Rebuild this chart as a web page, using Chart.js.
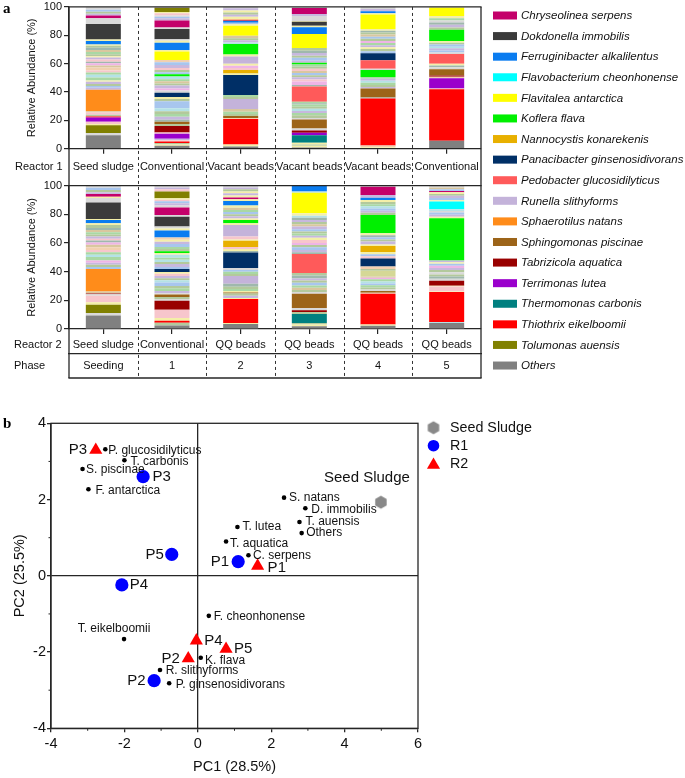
<!DOCTYPE html>
<html><head><meta charset="utf-8">
<script src="https://cdn.jsdelivr.net/npm/chart.js@4.4.1/dist/chart.umd.min.js"></script>
<style>
html,body{margin:0;padding:0;background:#fff;}
#wrap{position:relative;width:685px;height:778px;overflow:hidden;background:#fff;}
#wrap canvas{position:absolute;left:0;top:0;width:685px;height:778px;}
</style></head><body>
<div id="wrap">
<canvas id="cR1" width="685" height="778"></canvas>
<canvas id="cR2" width="685" height="778"></canvas>
<canvas id="cPCA" width="685" height="778"></canvas>
</div>
<script>
// ---------------- DATA (panel a) ----------------
const reactor1Labels = ['Seed sludge','Conventional','Vacant beads','Vacant beads','Vacant beads','Conventional'];
const reactor2Labels = ['Seed sludge','Conventional','QQ beads','QQ beads','QQ beads','QQ beads'];
const phaseLabels = ['Seeding','1','2','3','4','5'];
const rowTitles = ['Reactor 1','Reactor 2','Phase'];
const yTicksA = [0,20,40,60,80,100];

const taxonNames = {
  Chr:'Chryseolinea serpens', Dok:'Dokdonella immobilis', Fer:'Ferruginibacter alkalilentus',
  Fla:'Flavobacterium cheonhonense', Flt:'Flavitalea antarctica', Kof:'Koflera flava',
  Nan:'Nannocystis konarekenis', Pan:'Panacibacter ginsenosidivorans', Ped:'Pedobacter glucosidilyticus',
  Run:'Runella slithyforms', Sph:'Sphaerotilus natans', Spg:'Sphingomonas piscinae',
  Tab:'Tabrizicola aquatica', Ter:'Terrimonas lutea', The:'Thermomonas carbonis',
  Thi:'Thiothrix eikelboomii', Tol:'Tolumonas auensis', Oth:'Others'
};
const legendOrder = ['Chr','Dok','Fer','Fla','Flt','Kof','Nan','Pan','Ped','Run','Sph','Spg','Tab','Ter','The','Thi','Tol','Oth'];

// Each bar: segments bottom -> top, [taxon, relative abundance %]; m1..m13 = unnamed minor taxa
const r1Seed = [['Oth',9.5],['m1',1.5],['Tol',5.5],['m6',1],['m2',1.5],['Ter',3],['Thi',0.8],['m8',1.2],['m2',1.5],['m7',1],['Sph',15],['m5',1.5],['m4',1.2],['m8',1.5],['m5',1.5],['m6',1],['m3',2],['m10',2],['m3',1.5],['m2',1.5],['m11',2],['m7',1.5],['m9',1.5],['m12',1.2],['m2',1.5],['m5',1.5],['m6',0.8],['m8',1.5],['m3',1.5],['m7',1.5],['m12',1.5],['m8',1.5],['m6',0.8],['Fer',2.5],['m6',1],['Dok',11],['m1',4],['Chr',2],['m5',1.2],['m8',1.5],['m4',1.3],['m1',2]];
const r1Conv = [['Oth',2],['m6',1],['m8',1],['Thi',1],['m2',1],['m5',1],['Ter',3.5],['m2',1],['Tab',4.5],['m8',1.5],['Spg',1.5],['m12',1.5],['m5',2],['m3',2],['m8',2],['m10',2],['m4',5],['m8',1.5],['m6',1.5],['Pan',3],['m1',1.5],['m9',1.5],['m5',2],['m8',1.5],['m7',1.5],['m3',1.5],['m10',2],['Kof',1.5],['m4',1.5],['m8',1.5],['m2',1.5],['m5',2],['m4',2],['m11',1.5],['Flt',6],['m6',1.2],['Fer',5],['m6',1.5],['m1',1],['Dok',7.3],['m1',1],['Chr',5],['m5',1.5],['m4',1],['m1',1],['m2',1.5],['m6',1],['Tol',3],['m5',0.5]];
const r1P2 = [['Oth',1.5],['m6',1.5],['Thi',18],['m11',0.7],['Spg',1.3],['m8',1.5],['m3',1.5],['m7',2],['Run',7],['m8',1.5],['m3',1.3],['Pan',14.2],['m6',1],['Nan',2.5],['m2',1.5],['m9',1.5],['m6',1.5],['Run',5],['m6',1.4],['Kof',7.4],['m10',1.2],['m5',1.5],['m8',1.5],['m7',1.6],['Flt',7.2],['m6',1],['m4',1.1],['Fer',1.4],['Thi',0.7],['m6',2],['m5',1.5],['m8',1.5],['m6',1.5],['m5',1.5],['m1',1]];
const r1P3 = [['Oth',0.8],['m6',1.2],['m8',1],['m6',1.2],['The',5.3],['Ter',1.7],['Tab',1.6],['m1',1.4],['Spg',6.4],['m1',1],['m8',2],['m3',1.5],['m5',1.5],['m10',1.5],['m8',1.5],['m3',1.5],['m12',1],['m3',1.1],['Ped',10.7],['m12',1],['m9',2.5],['m2',1.5],['m5',1.5],['m8',1.5],['m4',1.5],['m7',1.5],['m2',1.5],['m8',1.5],['m3',1.5],['Kof',1.2],['m5',1.5],['m4',2],['m8',1.5],['m5',2],['m12',1.5],['m8',1.9],['Flt',10],['Fer',4.6],['m6',1.2],['Dok',2.8],['m6',0.5],['m1',3.6],['m5',1.4],['Chr',4.2],['m1',0.7]];
const r1P4 = [['m6',1],['m11',1.3],['Thi',33.2],['m12',0.7],['Spg',6.3],['m5',1],['m8',1.5],['m3',1.5],['m10',1.5],['m5',1.3],['m3',1.3],['Kof',4.9],['m1',0.9],['Ped',6],['Pan',4.9],['m4',1.5],['m8',1.5],['m6',1.2],['m5',1.5],['m3',1.5],['m9',1.5],['m8',1.5],['m4',1.5],['m7',1.5],['m8',1.5],['m12',1.2],['m6',1.3],['Flt',10.2],['m6',0.9],['Fer',1.4],['m5',1.5],['m1',1.5]];
const r1P5 = [['Oth',5.6],['Thi',36.4],['m2',0.5],['Ter',7.2],['m11',1],['Tab',1],['Spg',4.3],['m1',1.5],['m12',1.2],['m6',1.2],['Ped',6.9],['m1',1],['m4',1.5],['m5',1.5],['m10',1.2],['m4',1.5],['m8',1.3],['m6',1.2],['Kof',8],['m8',1.5],['m5',2],['m12',1.5],['m1',1.5],['m3',1.5],['m6',1.7],['Flt',5.8],['m6',0.5]];

const r2Seed = [['Oth',9.5],['m1',1.6],['Tol',5.8],['m6',1.7],['m2',4.6],['m1',1],['Tab',0.6],['m7',1.4],['Sph',15.6],['m4',1.5],['m8',1.5],['m5',1.5],['m9',1.5],['m3',2.5],['m10',1.5],['m3',1.8],['m2',1.5],['m11',2],['m7',1.7],['m9',1.5],['m12',1.5],['m2',1.2],['m5',1.5],['m8',1.5],['m3',1.5],['m7',1.5],['m12',1.5],['m8',2],['m6',1.3],['Fer',2.3],['m6',0.7],['Dok',11.4],['m1',3.2],['m6',0.9],['Chr',1.9],['m5',1.3],['m8',1.5],['m4',1.5],['m1',1.5]];
const r2Conv = [['Oth',2.5],['m8',1.9],['Thi',1.4],['m6',1.9],['m2',5.8],['Tab',6.2],['m1',1.3],['m8',1.3],['Spg',1.7],['m1',1],['m5',1.5],['m3',2],['m8',1.5],['m4',2.5],['m10',1.5],['m8',1.5],['m5',1.5],['m2',1.5],['m6',1.2],['Pan',2.1],['m4',1.5],['m5',2],['m8',1.5],['m10',1.5],['m3',1.5],['m10',2],['m6',1.3],['Kof',1.2],['m8',1.5],['m3',1.5],['m4',2],['m5',1.5],['m6',1.5],['m11',1.5],['Fer',4.9],['m6',1.5],['m1',1.3],['Dok',6.9],['m1',1.2],['Chr',5.1],['m1',1.5],['m5',1.5],['m4',1.5],['m2',1],['m6',1],['Tol',4.8],['m2',1.5],['m5',1.2],['m1',1.3]];
const r2P2 = [['Oth',3.5],['m6',0.7],['Thi',16.7],['m6',0.8],['m5',1.5],['m8',1.5],['Spg',0.8],['m6',1],['m3',1.5],['m8',1.5],['m12',2],['Run',5.4],['m8',1.5],['m3',1.5],['m4',1.3],['m1',1.3],['Pan',10.9],['m12',1],['m6',1.4],['m2',1.5],['Nan',4.2],['m6',1],['m2',2],['Run',8.1],['m6',1.2],['Kof',2.3],['m6',1],['m5',1.5],['m8',1.5],['m4',1.5],['m3',1.5],['m7',1.5],['m6',1.5],['Fer',3.2],['m6',1.2],['Chr',1.2],['m6',1.5],['m5',1.5],['m6',1.3],['m8',1.5],['m5',1.3],['m1',1.2]];
const r2P3 = [['Oth',1.9],['m6',1.3],['m8',1],['The',6.2],['m8',1.5],['Tab',1.2],['m1',1.5],['Spg',10],['m1',1.2],['m8',1.5],['m7',1.5],['m3',1.5],['m4',2],['m8',1.5],['m5',1.5],['m12',2],['m8',1.7],['Ped',13.4],['m12',1.2],['m5',1.5],['m4',2],['m8',1.5],['m9',1.5],['m2',2],['m6',1.5],['m5',1.5],['m3',1.5],['m8',1.5],['m4',1.5],['m5',2],['m7',1.5],['m8',1.5],['m5',1.5],['m12',1.5],['m10',1.5],['m6',1.6],['Flt',14.4],['m10',0.9],['Fer',4]];
const r2P4 = [['Oth',2.3],['m6',0.9],['Thi',21.4],['m11',0.7],['Spg',1.2],['m1',1],['m8',1.5],['m3',1.5],['m4',1.2],['m10',1.5],['m3',1.5],['m9',1],['m7',1],['m13',3.9],['m8',1.2],['m11',1.8],['Pan',5.6],['m2',1.5],['m4',1.5],['m6',1.6],['Nan',4.2],['m6',1],['m5',2],['m8',1.5],['m4',1.5],['m12',1.5],['m6',1.3],['Kof',12.8],['m8',1.5],['m5',1.5],['m4',1.5],['m10',1.5],['m3',1.5],['m8',1.5],['m6',1.5],['Fer',1.5],['m5',1.9],['Chr',5.8],['m1',0.7]];
const r2P5 = [['Oth',4.2],['m10',0.7],['Thi',20.9],['m6',0.4],['m2',3.5],['m6',0.5],['Tab',3.4],['m1',1.5],['m12',1.5],['m8',1.5],['m1',1.5],['m8',1.5],['m5',1.5],['m9',1.5],['m4',1.5],['m6',1],['m5',1.2],['Kof',29.5],['m6',1],['m5',1.5],['m4',1.5],['m1',1],['m10',1.2],['Fla',5.4],['m6',1],['m4',1.5],['m5',1.5],['m8',1.3],['m6',1.2],['Chr',0.9],['m4',1.2],['m7',1.3],['m1',1.2]];

const reactor1Bars = [r1Seed, r1Conv, r1P2, r1P3, r1P4, r1P5];
const reactor2Bars = [r2Seed, r2Conv, r2P2, r2P3, r2P4, r2P5];

// ---------------- DATA (panel b) ----------------
const speciesNames = ['P. glucosidilyticus','T. carbonis','S. piscinae','F. antarctica','S. natans','D. immobilis','T. auensis','Others','T. lutea','T. aquatica','C. serpens','F. cheonhonense','T. eikelboomii','K. flava','R. slithyforms','P. ginsenosidivorans'];
const speciesPC1 = [-2.52,-2.00,-3.14,-2.98,2.35,2.93,2.77,2.83,1.08,0.77,1.38,0.30,-2.01,0.08,-1.03,-0.78];
const speciesPC2 = [3.32,3.03,2.80,2.27,2.05,1.77,1.41,1.12,1.28,0.90,0.54,-1.05,-1.66,-2.15,-2.47,-2.82];
const phaseNames = ['P1','P2','P3','P4','P5'];
const r1PC1 = [1.10,-1.19,-1.49,-2.07,-0.71];
const r1PC2 = [0.37,-2.75,2.60,-0.24,0.56];
const r2PC1 = [1.63,-0.26,-2.78,-0.04,0.77];
const r2PC2 = [0.26,-2.17,3.30,-1.70,-1.92];
const seedPC1 = [4.99];
const seedPC2 = [1.93];
const pcaLegend = ['Seed Sludge','R1','R2'];

// ---------------- STYLE ----------------
const FONT = "'Liberation Sans', Arial, Helvetica, sans-serif";
const SERIF = "'Liberation Serif', 'DejaVu Serif', serif";
const INK = '#262626';
const TXT = '#111';
const taxonColors = {
  Chr:'#c4006a', Dok:'#3b3b3b', Fer:'#0a7cf0', Fla:'#00ffff', Flt:'#ffff00', Kof:'#00f000',
  Nan:'#e8b000', Pan:'#002f66', Ped:'#ff5a5a', Run:'#c4b3da', Sph:'#ff8c1a', Spg:'#9c6419',
  Tab:'#990000', Ter:'#9a00cc', The:'#008080', Thi:'#ff0000', Tol:'#808000', Oth:'#808080',
  m1:'#d9d9d9', m2:'#f7c6cc', m3:'#a9d8a4', m4:'#a8c6ee', m5:'#c7b8de', m6:'#f4efa8',
  m7:'#d9c79f', m8:'#b3c99c', m9:'#efb4e6', m10:'#b4e2e6', m11:'#f2d0b0', m12:'#9fb8ad', m13:'#d5d896'
};
const speciesLabelPos = {
  'P. glucosidilyticus':[3,1,'left'], 'T. carbonis':[6,1,'left'], 'S. piscinae':[3.5,1,'left'],
  'F. antarctica':[7,1,'left'], 'S. natans':[5,0,'left'], 'D. immobilis':[6,1,'left'],
  'T. auensis':[6,0,'left'], 'Others':[4.5,0,'left'], 'T. lutea':[5,0,'left'],
  'T. aquatica':[4,2,'left'], 'C. serpens':[4.5,0,'left'], 'F. cheonhonense':[5,1,'left'],
  'T. eikelboomii':[-10,-10,'center'], 'K. flava':[4.3,3,'left'], 'R. slithyforms':[5.7,1,'left'],
  'P. ginsenosidivorans':[6.7,1,'left']
};
const r1LabelPos = {P1:[-9,0,'right'], P2:[-8.5,0,'right'], P3:[9.5,0,'left'], P4:[8,0,'left'], P5:[-8,0,'right']};
const r2LabelPos = {P1:[10,2,'left'], P2:[-8.5,0.5,'right'], P3:[-8.7,0,'right'], P4:[8,0.5,'left'], P5:[8,0,'left']};
const seedLabelPos = [-14,-24,'center'];

Chart.defaults.font.family = FONT;
Chart.defaults.color = TXT;

function fixW(w){ return s => { s.width = w; }; }
function fixH(h){ return s => { s.height = h; }; }

function layers(bars){
  const n = Math.max(...bars.map(b => b.length));
  const out = [];
  for (let k = 0; k < n; k++){
    out.push({
      label: 'layer ' + (k + 1),
      data: bars.map(b => b[k] ? b[k][1] : null),
      backgroundColor: bars.map(b => b[k] ? taxonColors[b[k][0]] : 'rgba(0,0,0,0)'),
      borderWidth: 0, barPercentage: 0.51, categoryPercentage: 1, stack: 's'
    });
  }
  return out;
}

function yAxisA(){
  return {
    stacked: true, min: 0, max: 100,
    afterBuildTicks: s => { s.ticks = yTicksA.map(v => ({value: v})); },
    ticks: {font: {family: FONT, size: 11, lineHeight: 0.9}, color: TXT, padding: 2},
    grid: {drawOnChartArea: false, tickLength: 5, color: INK, lineWidth: 1.2},
    border: {color: INK, width: 1.3},
    title: {display: true, text: 'Relative Abundance (%)', font: {family: FONT, size: 11}, color: TXT, padding: {top: 25, bottom: 0}},
    afterFit: fixW(69)
  };
}

// ---------------- Reactor 1 ----------------
const chartR1 = new Chart(document.getElementById('cR1'), {
  type: 'bar',
  data: {labels: reactor1Labels, datasets: layers(reactor1Bars)},
  options: {
    responsive: false, animation: false, devicePixelRatio: 1, events: [],
    layout: {padding: {left: 0, top: 5, right: 204, bottom: 778 - 185.7}},
    plugins: {legend: {display: false}, tooltip: {enabled: false}},
    scales: {
      x: {stacked: true, offset: true,
          grid: {offset: false, drawOnChartArea: false, tickLength: 5, color: INK, lineWidth: 1.2},
          border: {color: INK, width: 1.3},
          ticks: {font: {family: FONT, size: 11}, color: TXT, padding: 7, maxRotation: 0, autoSkip: false},
          afterFit: fixH(37)},
      y: yAxisA()
    }
  }
});

// ---------------- Reactor 2 + table + legend ----------------
function strokeLine(ctx, x1, y1, x2, y2){ ctx.beginPath(); ctx.moveTo(x1, y1); ctx.lineTo(x2, y2); ctx.stroke(); }

const panelAExtras = {
  id: 'panelAExtras',
  afterDraw(chart){
    const ctx = chart.ctx;
    const a1 = chartR1.chartArea, a2 = chart.chartArea;
    const xs = chart.scales.x, xp = chart.scales.xPhase, x1 = chartR1.scales.x;
    const bottomY = xp.bottom;
    ctx.save();
    ctx.strokeStyle = INK; ctx.lineWidth = 1.3;
    strokeLine(ctx, a2.left, a1.top, a2.left, bottomY);
    strokeLine(ctx, a2.right, a1.top, a2.right, bottomY);
    strokeLine(ctx, a2.left - 0.6, a1.top, a2.right + 0.6, a1.top);
    strokeLine(ctx, a2.left - 0.6, a2.top, a2.right + 0.6, a2.top);
    strokeLine(ctx, a2.left - 0.6, bottomY, a2.right + 0.6, bottomY);
    ctx.setLineDash([3, 3]); ctx.lineWidth = 1; ctx.strokeStyle = '#333';
    for (let i = 0; i < reactor2Labels.length - 1; i++){
      const x = Math.round((xs.getPixelForValue(i) + xs.getPixelForValue(i + 1)) / 2) + 0.5;
      strokeLine(ctx, x, a1.top, x, bottomY);
    }
    ctx.setLineDash([]);
    // row titles
    ctx.fillStyle = TXT; ctx.font = '11px ' + FONT; ctx.textBaseline = 'middle'; ctx.textAlign = 'left';
    ctx.fillText(rowTitles[0], 15, x1.top + 5 + 7 + 6.6);
    ctx.fillText(rowTitles[1], 14, xs.top + 5 + 4.5 + 6.6);
    ctx.fillText(rowTitles[2], 14, xp.top + 5.5 + 6.6);
    // legend
    const lx = 493, ly0 = 15.5, step = 20.59;
    ctx.font = 'italic 11.5px ' + FONT;
    legendOrder.forEach((k, i) => {
      const y = ly0 + i * step;
      ctx.fillStyle = taxonColors[k];
      ctx.fillRect(lx, y - 4, 24, 8);
      ctx.fillStyle = TXT;
      ctx.fillText(taxonNames[k], 521, y + 0.5);
    });
    // panel letter
    ctx.font = 'bold 15px ' + SERIF; ctx.fillStyle = '#000';
    ctx.fillText('a', 3, 9);
    ctx.restore();
  }
};

const chartR2 = new Chart(document.getElementById('cR2'), {
  type: 'bar',
  data: {labels: reactor2Labels, datasets: layers(reactor2Bars)},
  options: {
    responsive: false, animation: false, devicePixelRatio: 1, events: [],
    layout: {padding: {left: 0, top: 185.7, right: 204, bottom: 778 - 378}},
    plugins: {legend: {display: false}, tooltip: {enabled: false}},
    scales: {
      x: {stacked: true, offset: true, position: 'bottom', weight: 0,
          grid: {offset: false, drawOnChartArea: false, tickLength: 5, color: INK, lineWidth: 1.2},
          border: {color: INK, width: 1.3},
          ticks: {font: {family: FONT, size: 11}, color: TXT, padding: 4.5, maxRotation: 0, autoSkip: false},
          afterFit: fixH(25)},
      xPhase: {type: 'category', labels: phaseLabels, offset: true, position: 'bottom', weight: 1,
          grid: {display: false, drawTicks: false},
          border: {display: true, color: INK, width: 1.3},
          ticks: {font: {family: FONT, size: 11}, color: TXT, padding: 5.5, maxRotation: 0, autoSkip: false},
          afterFit: fixH(24)},
      y: yAxisA()
    }
  },
  plugins: [panelAExtras]
});

// ---------------- Panel b: PCA ----------------
function hexImage(r, color){
  const s = Math.ceil(2 * r + 2);
  const c = document.createElement('canvas'); c.width = s; c.height = s;
  const g = c.getContext('2d'); g.fillStyle = color; g.beginPath();
  for (let i = 0; i < 6; i++){
    const a = Math.PI / 2 + i * Math.PI / 3;
    const px = s / 2 + r * Math.cos(a), py = s / 2 + r * Math.sin(a);
    if (i) g.lineTo(px, py); else g.moveTo(px, py);
  }
  g.closePath(); g.fill();
  return c;
}
const HEX = hexImage(6.6, '#888888');
const CIRCLE_R = 6.6, TRI_R = 7.6, LEG_CIRCLE_R = 5.8;

function drawTriangle(ctx, x, y, r){
  let rad = 0;
  ctx.beginPath();
  ctx.moveTo(x + Math.sin(rad) * r, y - Math.cos(rad) * r);
  rad += 2 * Math.PI / 3;
  ctx.lineTo(x + Math.sin(rad) * r, y - Math.cos(rad) * r);
  rad += 2 * Math.PI / 3;
  ctx.lineTo(x + Math.sin(rad) * r, y - Math.cos(rad) * r);
  ctx.closePath(); ctx.fill();
}

const pcaExtras = {
  id: 'pcaExtras',
  afterDraw(chart){
    const ctx = chart.ctx, a = chart.chartArea;
    const xs = chart.scales.x, ys = chart.scales.y;
    ctx.save();
    // frame
    ctx.strokeStyle = INK; ctx.lineWidth = 1.3;
    ctx.strokeRect(a.left, a.top, a.right - a.left, a.bottom - a.top);
    // minor ticks
    ctx.lineWidth = 1;
    for (let v = -3; v <= 5; v += 2){ const px = xs.getPixelForValue(v); strokeLine(ctx, px, a.bottom, px, a.bottom + 2.5); }
    for (let v = -3; v <= 3; v += 2){ const py = ys.getPixelForValue(v); strokeLine(ctx, a.left, py, a.left - 2.5, py); }
    // point labels
    ctx.fillStyle = TXT; ctx.textBaseline = 'middle';
    const put = (meta, names, posMap, font) => {
      ctx.font = font;
      meta.data.forEach((el, i) => {
        const p = posMap[names[i]];
        ctx.textAlign = p[2];
        ctx.fillText(names[i], el.x + p[0], el.y + p[1]);
      });
    };
    put(chart.getDatasetMeta(0), speciesNames, speciesLabelPos, '12px ' + FONT);
    put(chart.getDatasetMeta(2), phaseNames, r1LabelPos, '15px ' + FONT);
    put(chart.getDatasetMeta(3), phaseNames, r2LabelPos, '15px ' + FONT);
    const sm = chart.getDatasetMeta(1).data[0];
    ctx.font = '15px ' + FONT; ctx.textAlign = seedLabelPos[2];
    ctx.fillText(pcaLegend[0], sm.x + seedLabelPos[0], sm.y + seedLabelPos[1]);
    // legend
    const mx = 433.5, tx = 450, rows = [427.7, 445.7, 463.5];
    ctx.drawImage(HEX, mx - HEX.width / 2, rows[0] - HEX.height / 2);
    ctx.fillStyle = '#0000ff'; ctx.beginPath(); ctx.arc(mx, rows[1], LEG_CIRCLE_R, 0, Math.PI * 2); ctx.fill();
    ctx.fillStyle = '#ff0000'; drawTriangle(ctx, mx, rows[2] + 1.5, TRI_R);
    ctx.fillStyle = TXT; ctx.font = '14.3px ' + FONT; ctx.textAlign = 'left';
    pcaLegend.forEach((t, i) => ctx.fillText(t, tx, rows[i] + 0.5));
    // panel letter
    ctx.font = 'bold 15px ' + SERIF; ctx.fillStyle = '#000';
    ctx.fillText('b', 3, 424);
    ctx.restore();
  }
};

const zeroGrid = c => (c.tick && c.tick.value === 0) ? INK : 'rgba(0,0,0,0)';

new Chart(document.getElementById('cPCA'), {
  type: 'scatter',
  data: {datasets: [
    {label: 'Species', data: speciesNames.map((n, i) => ({x: speciesPC1[i], y: speciesPC2[i]})),
     pointRadius: 2.3, pointBackgroundColor: '#000', pointBorderWidth: 0, pointStyle: 'circle'},
    {label: pcaLegend[0], data: seedPC1.map((v, i) => ({x: v, y: seedPC2[i]})),
     pointStyle: HEX, pointRadius: 6.6},
    {label: pcaLegend[1], data: r1PC1.map((v, i) => ({x: v, y: r1PC2[i]})),
     pointStyle: 'circle', pointRadius: CIRCLE_R, pointBackgroundColor: '#0000ff', pointBorderWidth: 0},
    {label: pcaLegend[2], data: r2PC1.map((v, i) => ({x: v, y: r2PC2[i]})),
     pointStyle: 'triangle', pointRadius: TRI_R, pointBackgroundColor: '#ff0000', pointBorderWidth: 0}
  ]},
  options: {
    responsive: false, animation: false, devicePixelRatio: 1, events: [],
    layout: {padding: {left: 0, top: 423.3, right: 685 - 418, bottom: 0}},
    plugins: {legend: {display: false}, tooltip: {enabled: false}},
    scales: {
      x: {type: 'linear', min: -4, max: 6,
          ticks: {stepSize: 2, font: {family: FONT, size: 14.5}, color: TXT, padding: 3},
          grid: {color: zeroGrid, lineWidth: 1.3, tickLength: 4, tickColor: INK},
          border: {color: INK, width: 1.3},
          title: {display: true, text: 'PC1 (28.5%)', font: {family: FONT, size: 14.5}, color: TXT, padding: {top: 0, bottom: 2.6}},
          afterFit: fixH(49.7)},
      y: {type: 'linear', min: -4, max: 4,
          ticks: {stepSize: 2, font: {family: FONT, size: 14.5}, color: TXT, padding: 1},
          grid: {color: zeroGrid, lineWidth: 1.3, tickLength: 4, tickColor: INK},
          border: {color: INK, width: 1.3},
          title: {display: true, text: 'PC2 (25.5%)', font: {family: FONT, size: 14.5}, color: TXT, padding: {top: 11.3, bottom: 0}},
          afterFit: fixW(51)}
    }
  },
  plugins: [pcaExtras]
});
</script>
</body></html>
